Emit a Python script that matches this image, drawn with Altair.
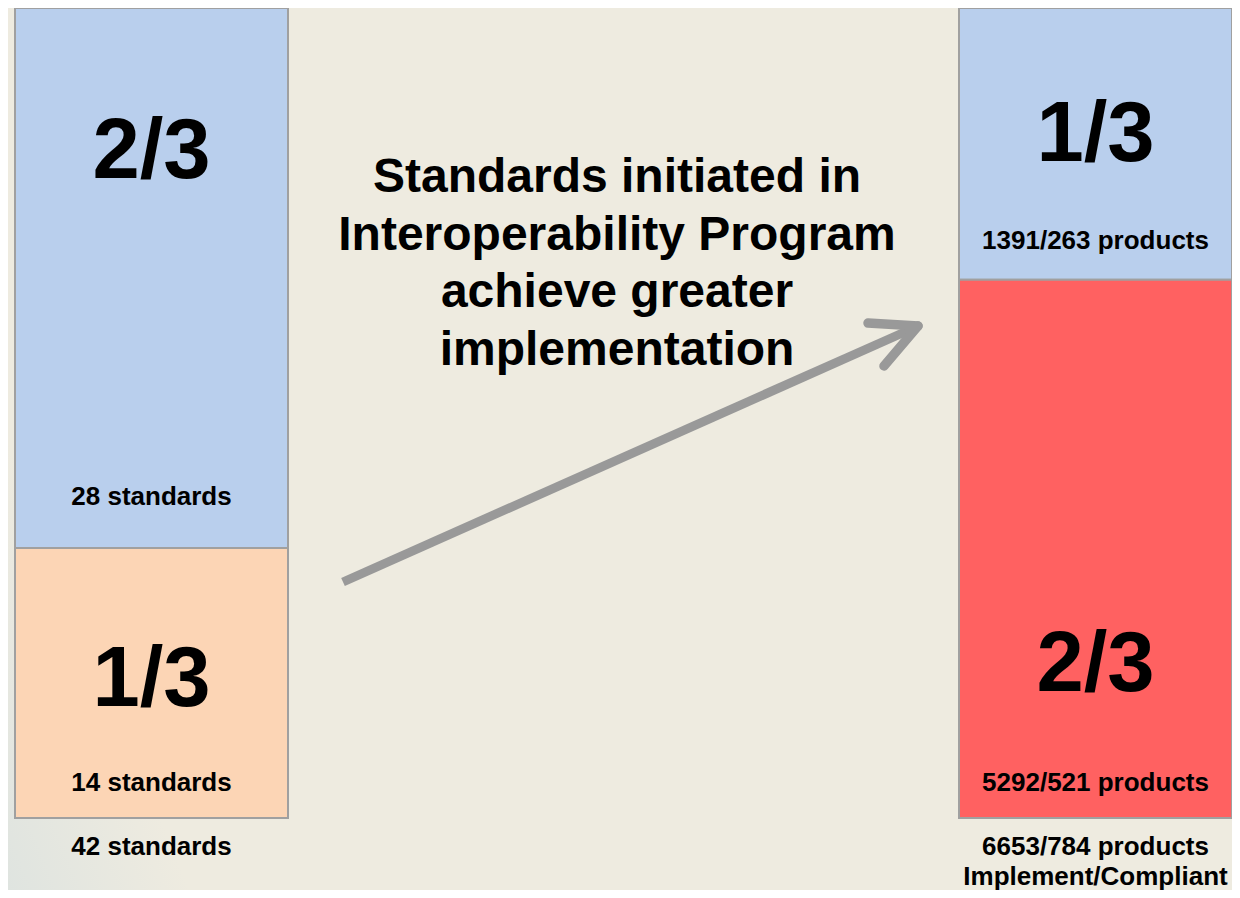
import altair as alt
import pandas as pd

# ---- data ----
groups = ["Standards", "Products"]
upper_counts = [28, 263]
lower_counts = [14, 521]
upper_fractions = ["2/3", "1/3"]
lower_fractions = ["1/3", "2/3"]
upper_labels = ["28 standards", "1391/263 products"]
lower_labels = ["14 standards", "5292/521 products"]
total_labels = ["42 standards", "6653/784 products"]
captions = ["", "Implement/Compliant"]
title_lines = ["Standards initiated in", "Interoperability Program",
               "achieve greater", "implementation"]

rows = []
for i, g in enumerate(groups):
    total = upper_counts[i] + lower_counts[i]
    split = lower_counts[i] / total
    rows.append(dict(group=g, part="upper", key=g + "-upper", y0=split, y1=1.0,
                     frac=upper_fractions[i], label=upper_labels[i]))
    rows.append(dict(group=g, part="lower", key=g + "-lower", y0=0.0, y1=split,
                     frac=lower_fractions[i], label=lower_labels[i]))
seg = pd.DataFrame(rows)
tot = pd.DataFrame(dict(group=groups, total=total_labels, caption=captions,
                        base=[0.0, 0.0]))
one = pd.DataFrame({"k": [0]})

FONT = "Liberation Sans"
BG = "#EEEBE0"

xenc = alt.X("group:N", axis=None,
             scale=alt.Scale(domain=groups, paddingInner=0.710805,
                             paddingOuter=0.0037076, align=1))
yscale = alt.Scale(domain=[0, 1], nice=False, zero=False)

color_scale = alt.Scale(
    domain=["Standards-upper", "Standards-lower", "Products-upper", "Products-lower"],
    range=["#B9CFED", "#FCD5B5", "#B9CFED", "#FF6161"])

bg = alt.Chart(one).mark_rect(
    fill=alt.Gradient(gradient="linear",
                      stops=[alt.GradientStop(color="#DFE4E0", offset=0),
                             alt.GradientStop(color=BG, offset=1)],
                      x1=0, y1=1, x2=0.35, y2=0.7)
).encode(x=alt.value(0), x2=alt.value(300), y=alt.value(250), y2=alt.value(882))

bars = alt.Chart(seg).mark_bar(stroke="#A0A0A0", strokeWidth=2).encode(
    x=xenc,
    y=alt.Y("y0:Q", scale=yscale, axis=None),
    y2="y1:Q",
    fill=alt.Fill("key:N", scale=color_scale, legend=None),
)


def seg_text(group, part, field, anchor, dy, size):
    return alt.Chart(seg).transform_filter(
        (alt.datum.group == group) & (alt.datum.part == part)
    ).mark_text(dy=dy, fontSize=size, fontWeight="bold", font=FONT,
                baseline="middle", align="center", color="black").encode(
        x=xenc,
        y=alt.Y(anchor + ":Q", scale=yscale, axis=None),
        text=field + ":N",
    )


BIG = 85
SMALL = 26
texts = [
    seg_text("Standards", "upper", "frac", "y1", 144, BIG),
    seg_text("Standards", "upper", "label", "y0", -51, SMALL),
    seg_text("Standards", "lower", "frac", "y1", 132, BIG),
    seg_text("Standards", "lower", "label", "y0", -35, SMALL),
    seg_text("Products", "upper", "frac", "y1", 127, BIG),
    seg_text("Products", "upper", "label", "y0", -39, SMALL),
    seg_text("Products", "lower", "frac", "y0", -153, BIG),
    seg_text("Products", "lower", "label", "y0", -35, SMALL),
]

totals = alt.Chart(tot).mark_text(dy=29, fontSize=SMALL, fontWeight="bold", font=FONT,
                                  baseline="middle", color="black").encode(
    x=xenc, y=alt.Y("base:Q", scale=yscale, axis=None), text="total:N")
caption = alt.Chart(tot).mark_text(dy=59, fontSize=SMALL, fontWeight="bold", font=FONT,
                                   baseline="middle", color="black").encode(
    x=xenc, y=alt.Y("base:Q", scale=yscale, axis=None), text="caption:N")

headline = alt.Chart(one).mark_text(
    text=title_lines, fontSize=48, fontWeight="bold", font=FONT, lineHeight=57.7,
    baseline="alphabetic", align="center", color="black"
).encode(x=alt.value(609), y=alt.value(184))

ARROW = "#999999"
shaft = alt.Chart(one).mark_rule(color=ARROW, strokeWidth=9, strokeCap="butt").encode(
    x=alt.value(335), y=alt.value(574), x2=alt.value(908), y2=alt.value(319))
arm1 = alt.Chart(one).mark_rule(color=ARROW, strokeWidth=9.5, strokeCap="round").encode(
    x=alt.value(910), y=alt.value(318), x2=alt.value(860), y2=alt.value(315))
arm2 = alt.Chart(one).mark_rule(color=ARROW, strokeWidth=9.5, strokeCap="round").encode(
    x=alt.value(910), y=alt.value(318), x2=alt.value(876), y2=alt.value(358))

chart = alt.layer(bg, bars, *texts, totals, caption, headline, shaft, arm1, arm2).properties(
    width=1224, height=810,
    padding={"left": 0, "top": 0, "right": 0, "bottom": 72},
    autosize="none",
    background=BG,
).configure_view(stroke=None)

chart.save("out.html", embed_options={"renderer": "svg", "actions": False})
